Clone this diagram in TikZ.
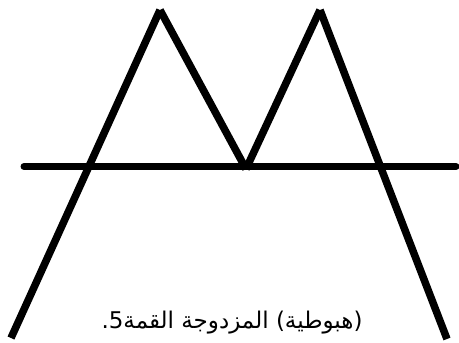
\documentclass[tikz,border=0pt]{standalone}
\usepackage{fontspec}
\newfontfamily\arabicfont[Script=Arabic]{DejaVu Sans}
\newfontfamily\digitfont{DejaVu Sans}
\TeXXeTstate=1
\tikzset{
  stroke/.style={line width=7.5pt, line cap=butt, black},
  baseline/.style={line width=7pt, line cap=round, black},
  caption/.style={font=\arabicfont\fontsize{23}{27}\selectfont, inner sep=0pt, anchor=base}
}
\newcommand{\rtlword}[1]{\hbox{\beginR #1\endR}}
\begin{document}
\begin{tikzpicture}[x=1pt, y=-1pt]
\useasboundingbox (0,0) rectangle (459,343);
\fill[white] (0,0) rectangle (459,343);
\coordinate (lb) at (11,338);
\coordinate (p1) at (160,10);
\coordinate (v) at (246,169);
\coordinate (p2) at (320,10);
\coordinate (rb) at (447,339);
\coordinate (hl) at (24,166.5);
\coordinate (hr) at (456,166.5);
\draw[baseline] (hl) -- (hr);
\draw[stroke] (lb) -- (p1);
\draw[stroke] (p1) -- (v);
\draw[stroke] (v) -- (p2);
\draw[stroke] (p2) -- (rb);
\node[caption] (cap) at (232,328) {\hbox{\digitfont .5}\rtlword{القمة}\ \rtlword{المزدوجة}\ \rtlword{(هبوطية)}};
\end{tikzpicture}
\end{document}
